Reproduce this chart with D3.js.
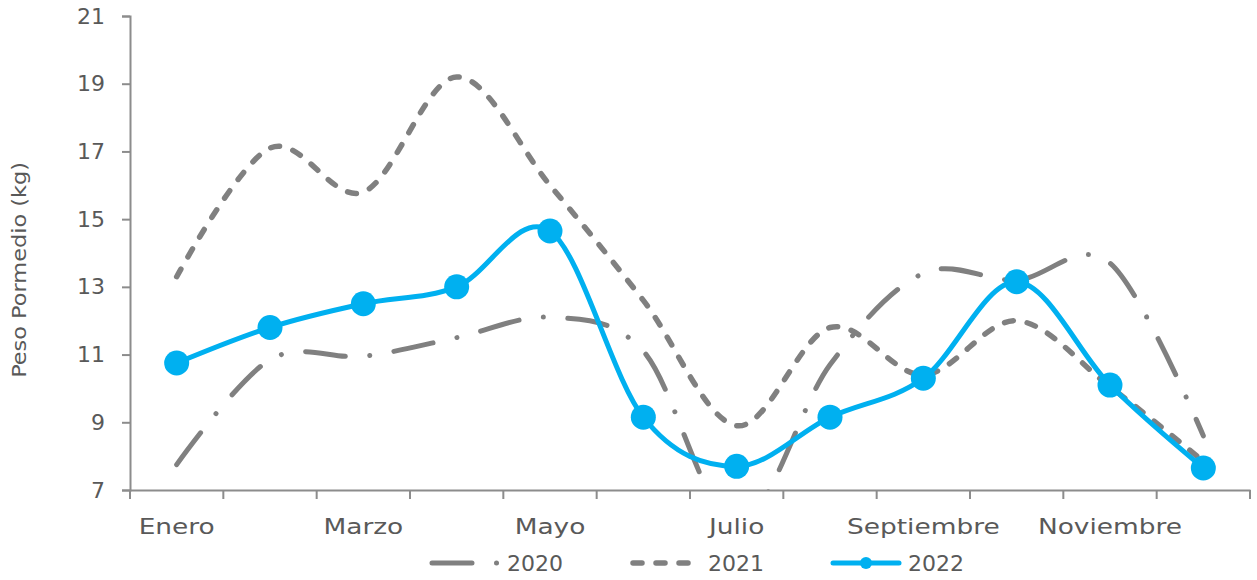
<!DOCTYPE html>
<html>
<head>
<meta charset="utf-8">
<script src="https://cdn.jsdelivr.net/npm/d3@7"></script>
<style>
  html, body { margin: 0; padding: 0; background: #ffffff; }
  svg { display: block; }
  text { font-family: "Century Gothic", "DejaVu Sans", sans-serif; fill: #595959; }
</style>
</head>
<body>
<svg id="chart" width="1257" height="580"></svg>
<script>
const months = ["Enero","Febrero","Marzo","Abril","Mayo","Junio","Julio","Agosto","Septiembre","Octubre","Noviembre","Diciembre"];
const shownMonths = ["Enero","Marzo","Mayo","Julio","Septiembre","Noviembre"];
const yTicks = [7, 9, 11, 13, 15, 17, 19, 21];
const seriesNames = ["2020", "2021", "2022"];
const values2020 = [7.75, 10.85, 10.95, 11.5, 12.1, 11.1, 6.0, 10.7, 13.4, 13.2, 13.7, 8.6];
const values2021 = [13.3, 17.1, 15.8, 19.2, 16.0, 12.6, 8.9, 11.8, 10.4, 12.0, 10.05, 7.85];
const values2022 = [10.75, 11.8, 12.5, 13.0, 14.65, 9.15, 7.7, 9.15, 10.3, 13.15, 10.1, 7.65];
const yTitle = "Peso Pormedio (kg)";

const svg = d3.select("#chart");
const margin = {left: 130, right: 7, top: 16, bottom: 90};
const W = 1257, H = 580;
const x = d3.scaleBand().domain(months).range([margin.left, W - margin.right]);
const y = d3.scaleLinear().domain([7, 21]).range([H - margin.bottom, margin.top]);

const axisColor = "#8c8c8c";
const grey = "#808080";
const blue = "#00b0f0";
const dash2020 = "40 24.5 0.01 24.5";
const dash2021 = "9 14";

function stretch(sel, f) {
  sel.each(function() {
    const len = this.getComputedTextLength();
    if (len > 0) d3.select(this).attr("textLength", len * f).attr("lengthAdjust", "spacingAndGlyphs");
  });
}

// clip
svg.append("defs").append("clipPath").attr("id", "plotclip")
  .append("rect").attr("x", margin.left).attr("y", margin.top)
  .attr("width", W - margin.right - margin.left).attr("height", y(7) - margin.top);

// Y axis
const yAxis = svg.append("g").attr("transform", `translate(${margin.left},0)`)
  .call(d3.axisLeft(y).tickValues(yTicks).tickSize(8).tickPadding(17));
yAxis.select(".domain").attr("stroke", axisColor).attr("stroke-width", 2);
yAxis.selectAll(".tick line").attr("stroke", axisColor).attr("stroke-width", 2);
yAxis.selectAll(".tick text").style("font-size", "22px").attr("fill", "#595959")
  .style("font-family", '"Century Gothic", "DejaVu Sans", sans-serif');

// X axis
const xAxis = svg.append("g").attr("transform", `translate(0,${y(7)})`)
  .call(d3.axisBottom(x).tickSize(0).tickFormat(d => shownMonths.includes(d) ? d : ""));
xAxis.select(".domain").attr("stroke", axisColor).attr("stroke-width", 2);
const xt = xAxis.selectAll(".tick text").attr("y", 44).attr("dy", 0).style("font-size", "22px").attr("fill", "#595959")
  .style("font-family", '"Century Gothic", "DejaVu Sans", sans-serif');
stretch(xt, 1.2);
// boundary tick marks between categories
const bounds = months.map(m => x(m)).concat([x(months[months.length - 1]) + x.bandwidth()]);
xAxis.selectAll(".bnd").data(bounds).enter().append("line")
  .attr("x1", d => d).attr("x2", d => d).attr("y1", 0).attr("y2", 9)
  .attr("stroke", axisColor).attr("stroke-width", 2);

// Y title
const yt = svg.append("text")
  .attr("transform", `translate(26,${(y(7) + y(21)) / 2 + 17}) rotate(-90)`)
  .attr("text-anchor", "middle")
  .style("font-size", "20px")
  .text(yTitle);
stretch(yt, 1.12);

const cx = d => x(d) + x.bandwidth() / 2;
const line = d3.line().x((d, i) => cx(months[i])).y(d => y(d)).curve(d3.curveCatmullRom.alpha(0));

const plot = svg.append("g").attr("clip-path", "url(#plotclip)");

plot.append("path").datum(values2020).attr("d", line)
  .attr("fill", "none").attr("stroke", grey).attr("stroke-width", 5)
  .attr("stroke-linecap", "round").attr("stroke-dasharray", dash2020);

plot.append("path").datum(values2021).attr("d", line)
  .attr("fill", "none").attr("stroke", grey).attr("stroke-width", 5.5)
  .attr("stroke-linecap", "round").attr("stroke-dasharray", dash2021);

plot.append("path").datum(values2022).attr("d", line)
  .attr("fill", "none").attr("stroke", blue).attr("stroke-width", 5)
  .attr("stroke-linecap", "round");

plot.selectAll(".pt").data(values2022).enter().append("circle")
  .attr("cx", (d, i) => cx(months[i])).attr("cy", d => y(d)).attr("r", 12.5)
  .attr("fill", blue);

// Legend
const legY = 563;
const leg = svg.append("g");
const legItems = [
  {name: seriesNames[0], x0: 432, dash: dash2020, color: grey, w: 5, marker: false},
  {name: seriesNames[1], x0: 633, dash: dash2021, color: grey, w: 5.5, marker: false},
  {name: seriesNames[2], x0: 833, dash: null, color: blue, w: 5, marker: true}
];
legItems.forEach(it => {
  const l = leg.append("line").attr("x1", it.x0).attr("x2", it.x0 + 66)
    .attr("y1", legY).attr("y2", legY).attr("stroke", it.color).attr("stroke-width", it.w)
    .attr("stroke-linecap", "round");
  if (it.dash) l.attr("stroke-dasharray", it.dash);
  if (it.marker) leg.append("circle").attr("cx", it.x0 + 33).attr("cy", legY).attr("r", 6).attr("fill", it.color);
  leg.append("text").attr("x", it.x0 + 75).attr("y", legY + 8).style("font-size", "22px").text(it.name);
});
</script>
</body>
</html>
